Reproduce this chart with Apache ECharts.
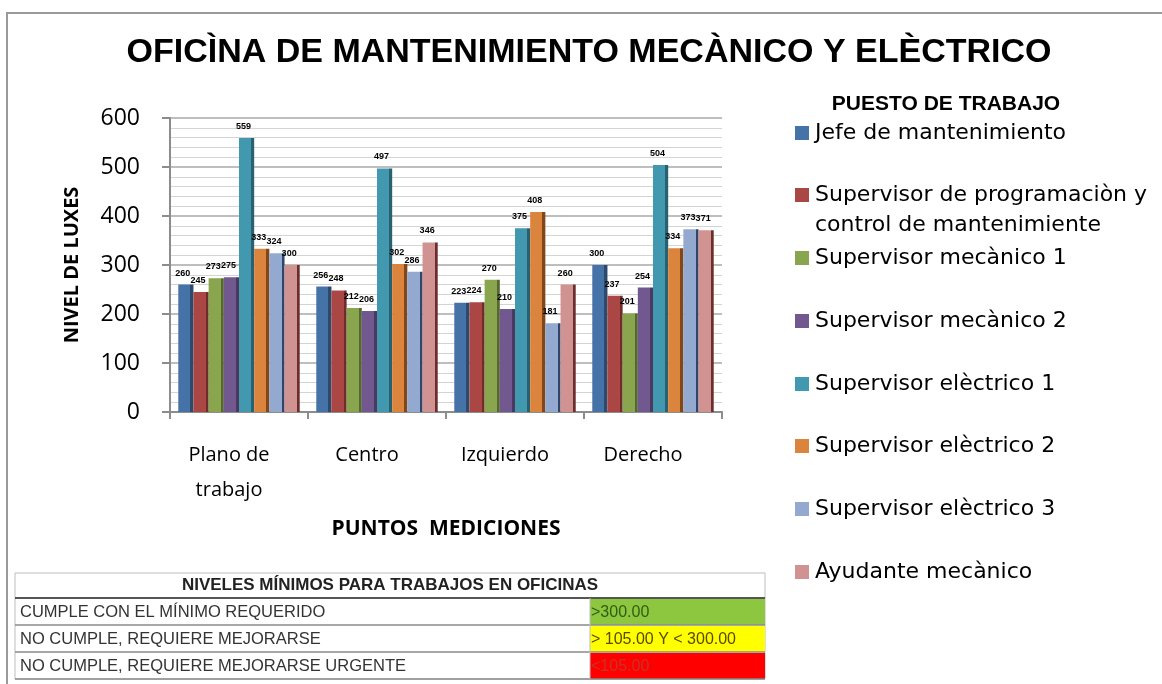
<!DOCTYPE html>
<html>
<head>
<meta charset="utf-8">
<script src="https://cdn.jsdelivr.net/npm/echarts@6/dist/echarts.min.js"></script>
<style>
  html, body { margin: 0; padding: 0; background: #fff; }
  #main { width: 1162px; height: 684px; }
</style>
</head>
<body>
<div id="main"></div>
<script>
// puntos de medicion
const categories = ['Plano de\ntrabajo', 'Centro', 'Izquierdo', 'Derecho']
// puestos de trabajo
const puestos = [
  'Jefe de mantenimiento',
  'Supervisor de programaciòn y control de mantenimiente',
  'Supervisor mecànico 1',
  'Supervisor mecànico 2',
  'Supervisor elèctrico 1',
  'Supervisor elèctrico 2',
  'Supervisor elèctrico 3',
  'Ayudante mecànico'
]
const jefe = [260, 256, 223, 300]
const supProgramacion = [245, 248, 224, 237]
const supMecanico1 = [273, 212, 270, 201]
const supMecanico2 = [275, 206, 210, 254]
const supElectrico1 = [559, 497, 375, 504]
const supElectrico2 = [333, 302, 408, 334]
const supElectrico3 = [324, 286, 181, 373]
const ayudante = [300, 346, 260, 371]
const yTicks = [0, 100, 200, 300, 400, 500, 600]

// tabla de niveles minimos
const tablaTitulo = 'NIVELES MÍNIMOS PARA TRABAJOS EN OFICINAS'
const tablaCriterio = ['CUMPLE CON EL MÍNIMO REQUERIDO', 'NO CUMPLE, REQUIERE MEJORARSE', 'NO CUMPLE, REQUIERE MEJORARSE URGENTE']
const tablaRango = ['>300.00', '> 105.00 Y < 300.00', '<105.00']

const seriesValues = [jefe, supProgramacion, supMecanico1, supMecanico2, supElectrico1, supElectrico2, supElectrico3, ayudante]
const colorList = ['#4572A7', '#AA4643', '#89A54E', '#71588F', '#4198AF', '#DB843D', '#93A9CF', '#D19392']
const rangoColors = ['#8DC63F', '#FFFF00', '#FF0000']
const rangoText = ['#2f5d12', '#5a4a00', '#c8322a']
const tablaFont = 'Liberation Sans'

var myChart = echarts.init(document.getElementById('main'))

// una leyenda por puesto para poder ubicarlas como en el original
const legendTops = [128, 205, 253, 316, 379, 441, 504, 567]
const legends = puestos.map((p, i) => ({
  data: [p],
  left: 790,
  top: legendTops[i] - (i === 1 ? 30 : 15),
  orient: 'vertical',
  // el icono del item de dos lineas queda arriba, junto a la primera linea
  icon: i === 1 ? 'path://M0,0h10v10h-10zM0,31.4h10' : 'rect',
  itemWidth: 14,
  itemHeight: i === 1 ? 44 : 14,
  itemGap: 0,
  selectedMode: false,
  itemStyle: { color: colorList[i] },
  formatter: (name) => name.replace(' y ', ' y\n'),
  textStyle: {
    fontFamily: 'DejaVu Sans',
    fontSize: 22,
    color: '#000',
    lineHeight: 30,
    padding: [0, 0, 0, 1]
  }
}))

// tabla dibujada con graphic
const tx = 15, tw = 750, splitX = 590
const headerY = 573, headerH = 25, rowH = 27
const tabla = [
  { type: 'rect', shape: { x: tx, y: headerY, width: tw, height: headerH + rowH * 3 }, style: { fill: '#fff', stroke: '#bdbdbd', lineWidth: 1 } },
  { type: 'text', x: tx + tw / 2, y: headerY + headerH / 2, style: { text: tablaTitulo, fontFamily: tablaFont, fontWeight: 'bold', fontSize: 17, fill: '#222', align: 'center', verticalAlign: 'middle' } },
  { type: 'line', shape: { x1: tx, y1: headerY + headerH, x2: tx + tw, y2: headerY + headerH }, style: { stroke: '#555', lineWidth: 2 } }
]
tablaCriterio.forEach((t, i) => {
  const y = headerY + headerH + i * rowH
  tabla.push({ type: 'rect', shape: { x: splitX, y: y + 1, width: tx + tw - splitX, height: rowH - 1 }, style: { fill: rangoColors[i] } })
  tabla.push({ type: 'line', shape: { x1: tx, y1: y + rowH, x2: tx + tw, y2: y + rowH }, style: { stroke: '#8a8a8a', lineWidth: 1.5 } })
  tabla.push({ type: 'line', shape: { x1: splitX, y1: y, x2: splitX, y2: y + rowH }, style: { stroke: '#bdbdbd', lineWidth: 1 } })
  tabla.push({ type: 'text', x: tx + 5, y: y + rowH / 2 + 1, style: { text: t, fontFamily: tablaFont, fontSize: 16.5, fill: '#333', verticalAlign: 'middle' } })
  tabla.push({ type: 'text', x: splitX + 1, y: y + rowH / 2 + 1, style: { text: tablaRango[i], fontFamily: tablaFont, fontSize: 16, fill: rangoText[i], verticalAlign: 'middle' } })
})

let option = {
  backgroundColor: '#fff',
  animation: false,
  color: colorList,
  title: [{
    text: 'OFICÌNA DE MANTENIMIENTO MECÀNICO Y ELÈCTRICO',
    left: 584,
    textAlign: 'center',
    top: 31,
    textStyle: { fontFamily: 'Liberation Sans', fontWeight: 'bold', fontSize: 34, color: '#000' }
  }, {
    text: 'PUESTO DE TRABAJO',
    left: 941,
    textAlign: 'center',
    top: 89,
    textStyle: { fontFamily: 'Liberation Sans', fontWeight: 'bold', fontSize: 21, color: '#000' }
  }],
  legend: legends,
  graphic: [
    { type: 'rect', shape: { x: 7, y: 13, width: 1200, height: 720 }, style: { fill: 'none', stroke: '#9a9a9a', lineWidth: 2 }, z: -1 }
  ].concat(tabla),
  grid: {
    left: 170,
    right: 440,
    top: 118,
    bottom: 272
  },
  xAxis: {
    type: 'category',
    data: categories,
    name: 'PUNTOS  MEDICIONES',
    nameLocation: 'middle',
    nameGap: 107,
    nameTextStyle: { fontFamily: 'Open Sans', fontWeight: 'bold', fontSize: 21, color: '#000' },
    axisLine: { lineStyle: { color: '#8c8c8c', width: 2 } },
    axisTick: { show: true, length: 7, lineStyle: { color: '#8c8c8c', width: 2 } },
    axisLabel: { fontFamily: 'Open Sans', fontSize: 20, color: '#000', margin: 26, lineHeight: 35, interval: 0, padding: [0, 20, 0, 0] }
  },
  yAxis: {
    type: 'value',
    min: 0,
    max: 600,
    interval: 100,
    name: 'NIVEL DE LUXES',
    nameLocation: 'middle',
    nameGap: 88,
    nameTextStyle: { fontFamily: 'Open Sans', fontWeight: 'bold', fontSize: 20, color: '#000' },
    axisLine: { show: true, lineStyle: { color: '#8c8c8c', width: 2 } },
    axisTick: { show: true, length: 8, lineStyle: { color: '#8c8c8c', width: 2 } },
    axisLabel: { fontFamily: 'Open Sans', fontSize: 23, color: '#000', margin: 30 },
    splitLine: { show: true, lineStyle: { color: '#a8a8a8', width: 1.5 } },
    minorTick: { show: false, splitNumber: 5 },
    minorSplitLine: { show: true, lineStyle: { color: '#d4d4d4', width: 1 } }
  },
  series: puestos.map((p, i) => ({
    name: p,
    type: 'bar',
    data: seriesValues[i],
    barGap: '0%',
    barCategoryGap: '12%',
    itemStyle: {
      color: new echarts.graphic.LinearGradient(0, 0, 1, 0, [
        { offset: 0, color: colorList[i] },
        { offset: 0.8, color: colorList[i] },
        { offset: 0.8, color: echarts.color.modifyHSL(colorList[i], null, null, 0.3) },
        { offset: 1, color: echarts.color.modifyHSL(colorList[i], null, null, 0.3) }
      ])
    },
    label: {
      show: true,
      position: 'top',
      offset: [-3, -2],
      fontFamily: 'Liberation Sans',
      fontWeight: 'bold',
      fontSize: 9,
      color: '#000'
    }
  }))
}
myChart.setOption(option)
</script>
</body>
</html>
